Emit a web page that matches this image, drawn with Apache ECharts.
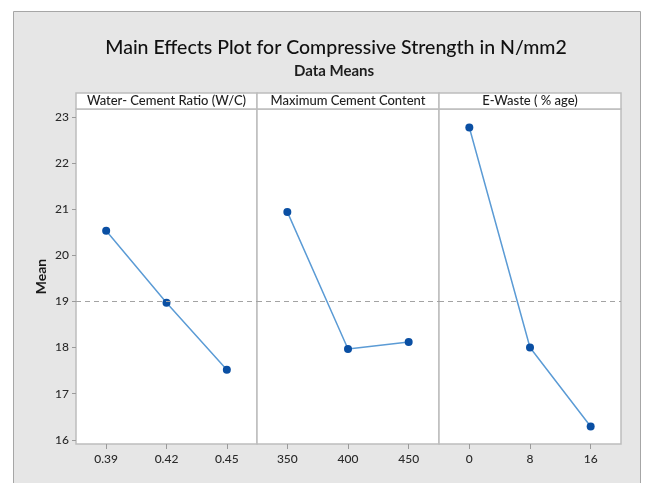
<!DOCTYPE html>
<html><head><meta charset="utf-8">
<script src="https://cdn.jsdelivr.net/npm/echarts@6/dist/echarts.min.js"></script>
<style>html,body{margin:0;padding:0;background:#fff}#c{width:651px;height:483px}</style>
</head><body><div id="c"></div>
<script>
const panelTitles = ['Water- Cement Ratio (W/C)', 'Maximum Cement Content', 'E-Waste ( % age)'];
const wcLevels = ['0.39', '0.42', '0.45'];
const wcMeans = [20.53, 18.97, 17.52];
const cementLevels = ['350', '400', '450'];
const cementMeans = [20.94, 17.97, 18.12];
const ewasteLevels = ['0', '8', '16'];
const ewasteMeans = [22.77, 18.00, 16.29];
const grandMean = 19.01;
const yTicks = [16, 17, 18, 19, 20, 21, 22, 23];

const levels = [wcLevels, cementLevels, ewasteLevels];
const means = [wcMeans, cementMeans, ewasteMeans];

const gridLefts = [76, 257, 439];
const gridWidths = [181, 182, 182];
const gridTop = 109, gridHeight = 335;
const font = 'Lato';

const grids = [], xAxes = [], yAxes = [], series = [], graphics = [];
graphics.push({type:'rect', z:-10, shape:{x:13.5, y:11.5, width:627, height:480},
  style:{fill:'#e6e6e6', stroke:'#a6a6a6', lineWidth:1}});
for (let i = 0; i < 3; i++) {
  grids.push({left: gridLefts[i], top: gridTop, width: gridWidths[i], height: gridHeight,
    show: true, backgroundColor: '#fff', borderColor: '#bdbdbd', borderWidth: 1.5});
  xAxes.push({type:'category', gridIndex:i, data: levels[i], boundaryGap:true,
    axisLine:{show:false},
    axisTick:{show:true, alignWithLabel:true, length:5, lineStyle:{color:'#9a9a9a'}},
    axisLabel:{color:'#2a2a2a', fontSize:12, fontFamily:font, fontWeight:500, margin:9},
    splitLine:{show:false}});
  yAxes.push({type:'value', gridIndex:i, min:15.91, max:23.17,
    show: i === 0,
    name: i === 0 ? 'Mean' : '', nameLocation:'middle', nameGap:28,
    nameTextStyle:{color:'#1a1a1a', fontSize:14, fontWeight:'bold', fontFamily:font},
    axisLine:{show:false},
    axisTick:{show:true, length:4, customValues: yTicks, lineStyle:{color:'#9a9a9a'}},
    axisLabel:{color:'#2a2a2a', fontSize:12, fontFamily:font, fontWeight:500, margin:7, customValues: yTicks},
    splitLine:{show:false}});
  series.push({type:'line', xAxisIndex:i, yAxisIndex:i, data: means[i],
    symbol:'circle', symbolSize:8,
    itemStyle:{color:'#0a4fa3'},
    lineStyle:{color:'#5b9bd5', width:1.5},
    markLine:{silent:true, symbol:['none','none'], label:{show:false},
      lineStyle:{color:'#a3a3a3', type:[5,4], width:1.2},
      data:[{yAxis: grandMean}]}});
  graphics.push({type:'rect', shape:{x:gridLefts[i], y:93, width:gridWidths[i], height:16},
    style:{fill:'#fff', stroke:'#bdbdbd', lineWidth:1.5}});
  graphics.push({type:'text', x:gridLefts[i] + gridWidths[i]/2, y:101,
    style:{text: panelTitles[i], fill:'#1e1e1e', font:'500 13px "'+font+'"', align:'center', verticalAlign:'middle'}});
}

const chart = echarts.init(document.getElementById('c'), null, {renderer:'canvas'});
chart.setOption({
  animation:false,
  backgroundColor:'#fff',
  title:[
    {text:'Main Effects Plot for Compressive Strength in N/mm2', left:331, top:33, textAlign:'center',
     textStyle:{fontSize:19.5, fontWeight:500, color:'#111', fontFamily:font}},
    {text:'Data Means', left:329, top:59, textAlign:'center',
     textStyle:{fontSize:15, fontWeight:'bold', color:'#1e1e1e', fontFamily:font}}
  ],
  grid: grids, xAxis: xAxes, yAxis: yAxes, series: series,
  graphic: graphics
});
</script></body></html>
